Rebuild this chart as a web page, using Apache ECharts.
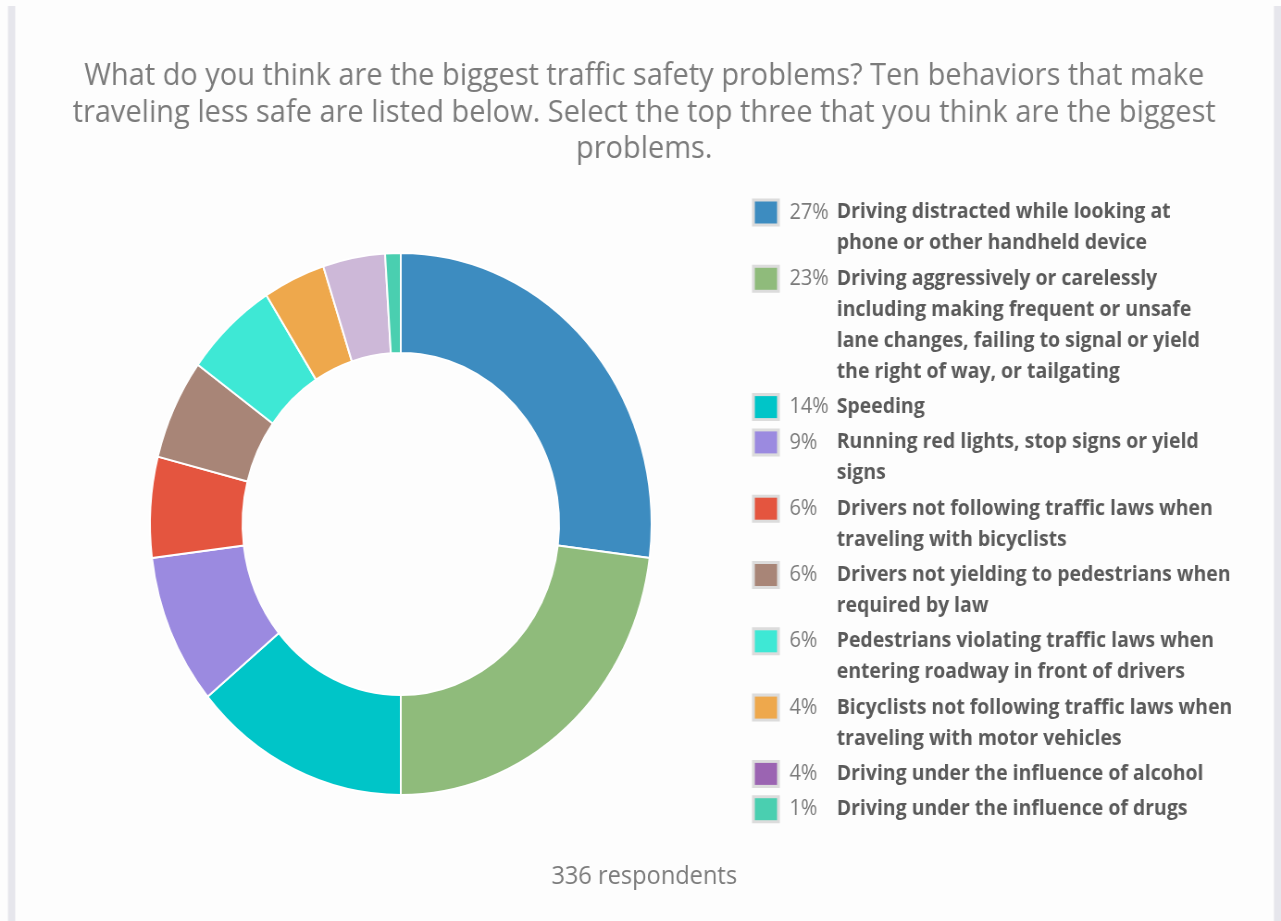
<!DOCTYPE html>
<html>
<head>
<meta charset="utf-8">
<title>Traffic safety problems</title>
<script src="https://cdn.jsdelivr.net/npm/echarts@6/dist/echarts.min.js"></script>
<style>
  html, body { margin: 0; padding: 0; background: #ffffff; overflow: hidden; }
  #wrap { width: 1281px; height: 921px; overflow: hidden; position: relative; }
  /* the chart is laid out on a wider canvas and narrowed to the page width */
  #chart { width: 1384px; height: 921px; transform: scaleX(0.92558); transform-origin: 0 0; }
</style>
</head>
<body>
<div id="wrap"><div id="chart"></div></div>
<script>
// Survey answers (share of all selections, %), clockwise from the top
const categories = [
  'Driving distracted while looking at\nphone or other handheld device',
  'Driving aggressively or carelessly\nincluding making frequent or unsafe\nlane changes, failing to signal or yield\nthe right of way, or tailgating',
  'Speeding',
  'Running red lights, stop signs or yield\nsigns',
  'Drivers not following traffic laws when\ntraveling with bicyclists',
  'Drivers not yielding to pedestrians when\nrequired by law',
  'Pedestrians violating traffic laws when\nentering roadway in front of drivers',
  'Bicyclists not following traffic laws when\ntraveling with motor vehicles',
  'Driving under the influence of alcohol',
  'Driving under the influence of drugs'
];
const values = [27, 23, 14, 9, 6, 6, 6, 4, 4, 1];
const sliceColors = ['#3d8cc0', '#8fbb7b', '#00c5c8', '#9b8ae0', '#e4553f', '#a88577', '#3ee8d5', '#eea84c', '#cdb8d8', '#4acfb0'];
const keyColors   = ['#3d8cc0', '#8fbb7b', '#00c5c8', '#9b8ae0', '#e4553f', '#a88577', '#3ee8d5', '#eea84c', '#9b64b2', '#4acfb0'];
const titleText = 'What do you think are the biggest traffic safety problems? Ten behaviors that make\ntraveling less safe are listed below. Select the top three that you think are the biggest\nproblems.';
const footerText = '336 respondents';

const chart = echarts.init(document.getElementById('chart'), null, { renderer: 'canvas' });

// rich styles for the key: one swatch style per answer
const LINE_H = 31;
const rich = {
  p:   { fontFamily: 'Open Sans', fontSize: 21.5, color: '#7a7a7a', width: 51, lineHeight: LINE_H },
  n:   { fontFamily: 'Open Sans', fontSize: 21, fontWeight: 'bold', color: '#5a5a5a', lineHeight: LINE_H },
  gap: { width: 13.5, lineHeight: LINE_H },
  ind: { width: 88.5, lineHeight: LINE_H }
};
keyColors.forEach((c, i) => {
  rich['sw' + i] = {
    width: 24, height: 22, backgroundColor: c,
    borderColor: '#dcdcdc', borderWidth: 3, lineHeight: LINE_H
  };
});

const option = {
  backgroundColor: '#fdfdfd',
  animation: false,
  title: [
    {
      text: titleText,
      left: 696, top: 58, textAlign: 'center', padding: 0,
      textStyle: { fontFamily: 'Open Sans', fontSize: 31.3, fontWeight: 'normal', color: '#7b7b7b', lineHeight: 36.5 }
    },
    {
      text: footerText,
      left: 696, top: 862, textAlign: 'center', padding: 0,
      textStyle: { fontFamily: 'Open Sans', fontSize: 25.5, fontWeight: 'normal', color: '#7b7b7b', lineHeight: 30 }
    }
  ],
  legend: {
    orient: 'vertical',
    left: 809.5, top: 197, padding: 0,
    itemWidth: 0, itemHeight: 0, itemGap: 4.3,
    selectedMode: false,
    data: categories,
    textStyle: { lineHeight: LINE_H, rich: rich },
    formatter: function (name) {
      const i = categories.indexOf(name);
      return name.split('\n').map(function (ln, k) {
        return k === 0
          ? '{sw' + i + '| }{gap| }{p|' + values[i] + '%}{n|' + ln + '}'
          : '{ind| }{n|' + ln + '}';
      }).join('\n');
    }
  },
  graphic: [
    { type: 'rect', shape: { x: 8.6, y: 6, width: 7.8, height: 930 }, style: { fill: '#e6e6ec' }, silent: true },
    { type: 'rect', shape: { x: 1376.4, y: 6, width: 8, height: 930 }, style: { fill: '#e6e6ec' }, silent: true }
  ],
  series: [{
    type: 'pie',
    center: [433, 524],
    radius: [171, 271],
    startAngle: 90,
    clockwise: true,
    label: { show: false },
    labelLine: { show: false },
    emphasis: { disabled: true },
    itemStyle: { borderColor: '#ffffff', borderWidth: 2 },
    data: categories.map(function (c, i) {
      return { name: c, value: values[i], itemStyle: { color: sliceColors[i] } };
    })
  }]
};
chart.setOption(option);
</script>
</body>
</html>
